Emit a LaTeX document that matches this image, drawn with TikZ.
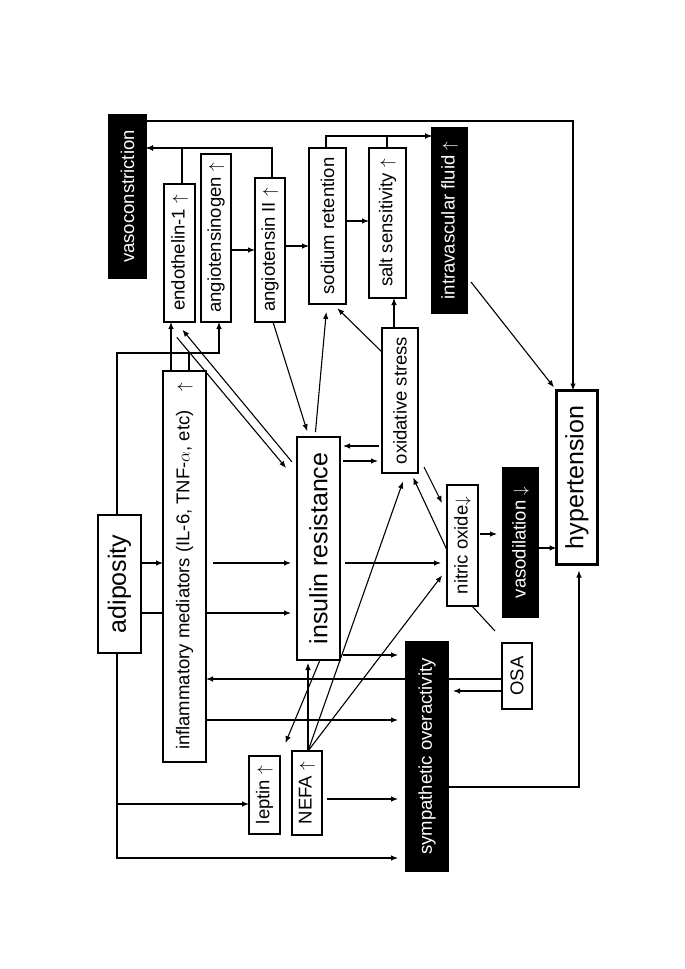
\documentclass[tikz,border=0pt]{standalone}
\usepackage{fontspec}
\setmainfont{Liberation Sans}
\usepackage{graphicx}
\usetikzlibrary{arrows.meta,calc,backgrounds}
\newcommand{\uptext}[1]{\rotatebox{90}{#1}}

\begin{document}
\begin{tikzpicture}[
x=1pt, y=-1pt,
box/.style={draw, fill=white, line width=1.1pt, inner sep=0pt, outer sep=0pt, font=\fontsize{18.5}{20}\selectfont},
bigbox/.style={box, font=\fontsize{25}{28}\selectfont},
blk/.style={box, fill=black, text=white},
arr/.style={-{Latex[length=7pt,width=5.5pt]}, line width=1.1pt},
ln/.style={line width=1.1pt}
]
\useasboundingbox (0,0) rectangle (685,969);
% boxes
\node[blk, minimum width=37pt, minimum height=163pt] (vasocon) at (127.5,196.5) {\uptext{vasoconstriction}};
\node[box, minimum width=31pt, minimum height=138pt] (endo) at (179.5,253) {\uptext{endothelin-1\ $\uparrow$}};
\node[box, minimum width=30pt, minimum height=168pt] (angen) at (216,238) {\uptext{angiotensinogen\ $\uparrow$}};
\node[box, minimum width=30pt, minimum height=144pt] (angII) at (270,250) {\uptext{angiotensin II\ $\uparrow$}};
\node[box, minimum width=37pt, minimum height=156pt] (sodium) at (327.5,226) {\uptext{sodium retention}};
\node[box, minimum width=37pt, minimum height=150pt] (salt) at (387.5,223) {\uptext{salt sensitivity\ $\uparrow$}};
\node[blk, minimum width=35pt, minimum height=185pt] (fluid) at (449.5,220.5) {\uptext{intravascular fluid\ $\uparrow$}};
\node[box, minimum width=36pt, minimum height=145pt] (oxid) at (400,400.5) {\uptext{oxidative stress}};
\node[bigbox, minimum width=43pt, minimum height=223pt] (insres) at (318.5,548.5) {\uptext{insulin resistance}};
\node[box, minimum width=31pt, minimum height=121pt] (nitric) at (462.5,545.5) {\uptext{nitric oxide$\downarrow$}};
\node[blk, minimum width=35pt, minimum height=149pt] (vasodil) at (520.5,542.5) {\uptext{vasodilation\ $\downarrow$}};
\node[bigbox, line width=2.8pt, minimum width=41pt, minimum height=174pt] (hyper) at (577,477.5) {\uptext{hypertension}};
\node[box, minimum width=30pt, minimum height=66pt] (osa) at (517,676) {\uptext{OSA}};
\node[blk, minimum width=42pt, minimum height=229pt] (symp) at (427,756.5) {\uptext{sympathetic overactivity}};
\node[box, minimum width=30pt, minimum height=84pt] (nefa) at (307,793) {\uptext{NEFA\ $\uparrow$}};
\node[box, minimum width=31pt, minimum height=78pt] (leptin) at (264.5,795) {\uptext{leptin\ $\uparrow$}};
\node[box, minimum width=43pt, minimum height=391pt] (inflam) at (184.5,566.5) {\uptext{inflammatory mediators (IL-6, TNF-$\alpha$, etc)\quad$\uparrow$}};
\node[bigbox, minimum width=43pt, minimum height=138pt] (adipos) at (119.5,584) {\uptext{adiposity}};
\coordinate (topbus) at (219,353);
% lines running behind boxes
\begin{scope}[on background layer]
\draw[arr, shorten >=6pt] (adipos.east |- 0,613) -- (insres.west |- 0,613);
\draw[arr] (osa.west |- 0,679) -- (inflam.east |- 0,679);
\end{scope}
% top part
\draw[arr] (vasocon.east |- 0,121) -| (hyper.north -| 573,0);
\draw[arr] (angII.north -| 272,0) |- (vasocon.east |- 0,148);
\draw[arr] (endo.north -| 182,0) |- (vasocon.east |- 0,148);
\draw[arr] (angen.east |- 0,250) -- (angII.west |- 0,250);
\draw[arr] (angII.east |- 0,246) -- (sodium.west |- 0,246);
\draw[arr] (sodium.east |- 0,221) -- (salt.west |- 0,221);
\draw[arr] (sodium.north -| 326,0) |- (fluid.west |- 0,136);
\draw[arr] (salt.north -| 387,0) |- (fluid.west |- 0,136);
\draw[arr] (oxid.north -| 394,0) -- (salt.south -| 394,0);
\draw[arr, shorten >=6pt] (oxid.west |- 0,352) -- (sodium.south -| 333,0);
\draw[arr, shorten <=5pt, shorten >=8pt] (insres.north -| 315,0) -- (sodium.south -| 327,0);
\draw[arr, shorten >=6pt] (angII.south -| 273,0) -- (insres.north -| 309,0);
\draw[arr, shorten >=4pt] ($(fluid.east |- 0,282)+(4,0)$) -- (hyper.north west);
% adiposity and inflammation
\draw[arr] (adipos.north -| 117,0) |- (topbus) -- (angen.south -| 219,0);
\draw[ln] (inflam.north -| 189,0) -- (topbus -| 189,0);
\draw[arr] (inflam.north -| 171,0) -- (endo.south -| 171,0);
\draw[arr, shorten <=20pt, shorten >=17pt] (endo.south west) -- (insres.west |- 0,481);
\draw[arr, shorten <=8pt, shorten >=10pt] (insres.west |- 0,468) -- (endo.south -| 176,0);
\draw[arr] (adipos.east |- 0,563) -- (inflam.west |- 0,563);
\draw[arr, shorten <=7pt, shorten >=6pt] (inflam.east |- 0,563) -- (insres.west |- 0,563);
\draw[arr, shorten >=8pt] (inflam.east |- 0,720) -- (symp.west |- 0,720);
\draw[arr] (adipos.south -| 117,0) |- (leptin.west |- 0,804);
\draw[arr, shorten >=8pt] (adipos.south -| 117,0) |- (symp.west |- 0,858);
% insulin resistance, oxidative stress, nitric oxide
\draw[arr, shorten <=3pt, shorten >=3pt] (oxid.west |- 0,446) -- (insres.east |- 0,446);
\draw[arr, shorten <=3pt, shorten >=4pt] (insres.east |- 0,461) -- (oxid.west |- 0,461);
\draw[arr, shorten <=5pt, shorten >=6pt] (insres.east |- 0,563) -- (nitric.west |- 0,563);
\draw[arr] ($(oxid.south east)+(6,-6)$) -- ($(nitric.north west)+(-5,18)$);
\draw[arr, shorten >=5pt] (nitric.west |- 0,550) -- (oxid.south -| 411,0);
\draw[arr, shorten <=2pt, shorten >=6pt] (nitric.east |- 0,534) -- (vasodil.west |- 0,534);
\draw[arr] (vasodil.east |- 0,548) -- (hyper.west |- 0,548);
\draw[ln] (nitric.south -| 472,0) -- ($(osa.north west)+(-7,-12)$);
\draw[arr, shorten <=3pt, shorten >=8pt] (insres.east |- 0,655) -- (symp.west |- 0,655);
\draw[arr, shorten >=14pt] (insres.south -| 320,0) -- (leptin.north east);
% NEFA
\draw[arr, shorten >=3pt] (nefa.north -| 308,0) -- (insres.south -| 308,0);
\draw[arr, shorten >=9pt] (nefa.north -| 308,0) -- (oxid.south -| 406,0);
\draw[arr, shorten >=8pt] (nefa.north -| 308,0) -- (nitric.west |- 0,569);
\draw[arr, shorten <=5pt, shorten >=8pt] (nefa.east |- 0,799) -- (symp.west |- 0,799);
% OSA and sympathetic
\draw[arr, shorten >=5pt] (osa.west |- 0,691) -- (symp.east |- 0,691);
\draw[arr, shorten >=6pt] (symp.east |- 0,787) -| (hyper.south -| 579,0);
\end{tikzpicture}
\end{document}
